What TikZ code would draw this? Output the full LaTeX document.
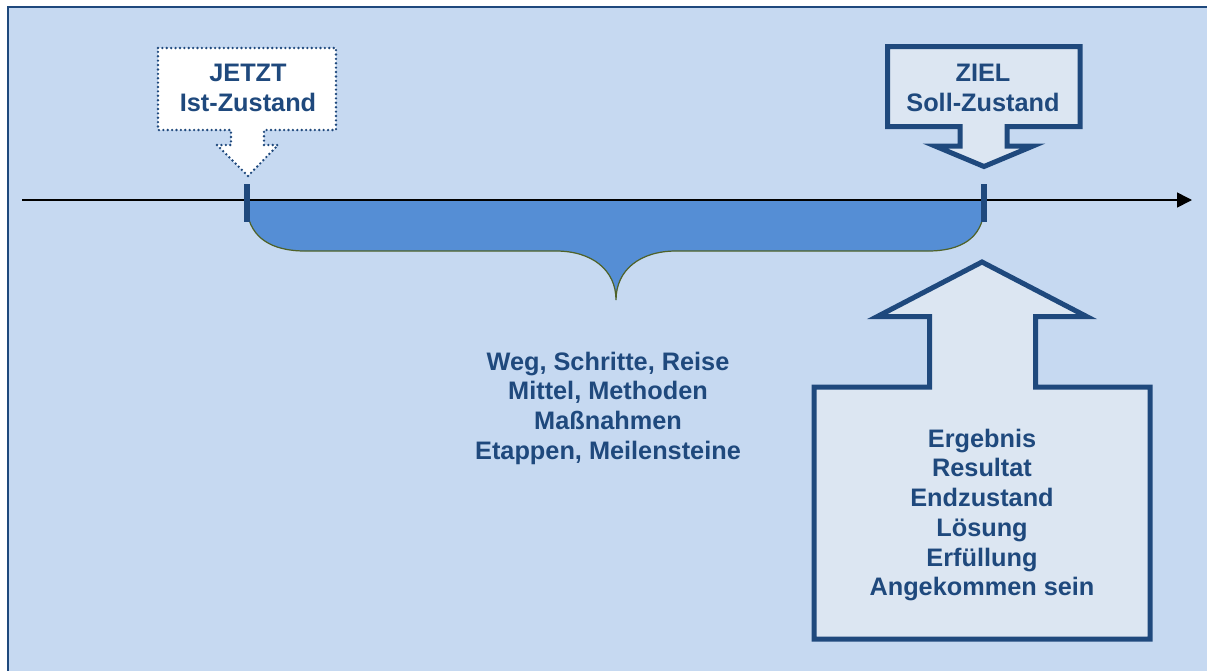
\documentclass[tikz,border=0pt]{standalone}
\usepackage{fontspec}
\setmainfont{Liberation Sans}
\usetikzlibrary{arrows.meta}
\definecolor{bgblue}{HTML}{C6D9F1}
\definecolor{navy}{HTML}{1F497D}
\definecolor{paleblue}{HTML}{DCE6F2}
\definecolor{bracefill}{HTML}{558ED5}
\definecolor{braceedge}{HTML}{4F6228}
\begin{document}
\begin{tikzpicture}[x={(0.02cm,0)}, y={(0,-0.02cm)},
  txt/.style={text=navy, font=\fontsize{14.4}{16.9}\selectfont\bfseries,
              align=center, inner sep=0pt},
  tick/.style={navy, line width=3.4pt},
  solidcallout/.style={draw=navy, line width=2.85pt, fill=paleblue, line join=miter, miter limit=20},
  dotcallout/.style={draw=navy, line width=1.5pt, fill=white, line cap=round,
                     dash pattern=on 0pt off 2.5pt}]
\useasboundingbox (0,0) rectangle (1207,670);
\clip (0,0) rectangle (1207,670);
\fill[white] (0,0) rectangle (1207,670);
% frame
\draw[navy, line width=1.1pt, fill=bgblue] (8,7) rectangle (1230,690);

% brace below the time line
\filldraw[fill=bracefill, draw=braceedge, line width=0.7pt]
  (247,200) -- (247,210) .. controls (250,238) and (272,251) .. (305,251)
  -- (556,251) .. controls (592,251) and (616,270) .. (616,300)
  .. controls (616,270) and (640,251) .. (676,251)
  -- (928,251) .. controls (961,251) and (982,238) .. (984,210)
  -- (984,200) -- cycle;

% time line
\coordinate (tstart) at (22,200);
\coordinate (tend) at (1192,200);
\draw[black, line width=0.9pt, -{Triangle[length=0.3cm,width=0.3cm]}] (tstart) -- (tend);

% start and goal marks
\draw[tick] (247,184) -- (247,222);
\draw[tick] (984,184) -- (984,222);

% JETZT callout
\draw[dotcallout] (158,48) -- (336,48) -- (336,130) -- (264,130) -- (264,145)
  -- (278,145) -- (248,176) -- (217,145) -- (231,145) -- (231,130)
  -- (158,130) -- cycle;
\node[txt] (jetzt) at (248,88) {JETZT\\Ist-Zustand};

% ZIEL callout
\draw[solidcallout] (887.5,46.5) -- (1080,46.5) -- (1080,126.5) -- (1007,126.5)
  -- (1007,146) -- (1033,146) -- (984,166.5) -- (935,146) -- (960,146)
  -- (960,126.5) -- (887.5,126.5) -- cycle;
\node[txt] (ziel) at (983,88) {ZIEL\\Soll-Zustand};

% path description
\node[txt] (weg) at (608,408) {Weg, Schritte, Reise\\Mittel, Methoden\\Maßnahmen\\Etappen, Meilensteine};

% result box with upward arrow
\draw[solidcallout] (814,387) -- (929.5,387) -- (929.5,316.7) -- (877,316.7)
  -- (982,262) -- (1087,316.7) -- (1035.5,316.7) -- (1035.5,387)
  -- (1150,387) -- (1150,639) -- (814,639) -- cycle;
\node[txt] (ergebnis) at (982,515) {Ergebnis\\Resultat\\Endzustand\\Lösung\\Erfüllung\\Angekommen sein};
\end{tikzpicture}
\end{document}
